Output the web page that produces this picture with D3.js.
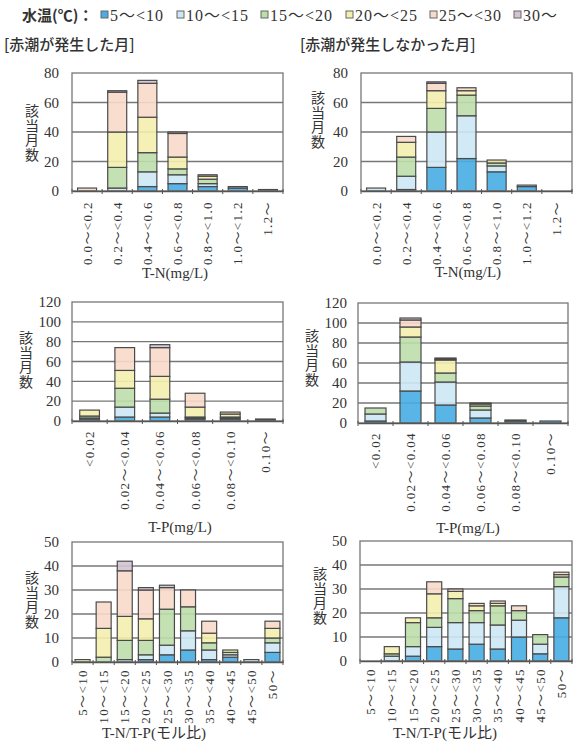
<!DOCTYPE html>
<html>
<head>
<meta charset="utf-8">
<script src="https://cdn.jsdelivr.net/npm/d3@7"></script>
<style>
  body { margin: 0; background: #fff; }
  svg { display: block; }
</style>
</head>
<body>
<svg id="chart" width="573" height="742"></svg>
<script>
// Water temperature classes (stack order, bottom to top)
const tempClasses = ["5～<10", "10～<15", "15～<20", "20～<25", "25～<30", "30～"];
const tempColors  = ["#48ade4", "#cde7f5", "#bcdeaa", "#f4efae", "#f8dacb", "#d3c4d3"];

// T-N classes (mg/L)
const tnCats = ["0.0～<0.2", "0.2～<0.4", "0.4～<0.6", "0.6～<0.8", "0.8～<1.0", "1.0～<1.2", "1.2～"];
// months with red tide: one row per T-N class, one value per temperature class
const tnOccurred = [
  [0, 0, 0, 0, 2, 0],
  [0, 2, 14, 24, 27, 1],
  [3, 10, 13, 24, 23, 2],
  [5, 6, 4, 8, 16, 1],
  [3, 2, 3, 2, 1, 0],
  [2, 1, 0, 0, 0, 0],
  [1, 0, 0, 0, 0, 0]
];
// months without red tide
const tnNone = [
  [0, 2, 0, 0, 0, 0],
  [1, 9, 13, 10, 4, 0],
  [16, 24, 16, 12, 5, 1],
  [22, 29, 14, 3, 2, 0],
  [13, 4, 2, 2, 0, 0],
  [3, 1, 0, 0, 0, 0],
  [0, 0, 0, 0, 0, 0]
];

// T-P classes (mg/L)
const tpCats = ["<0.02", "0.02～<0.04", "0.04～<0.06", "0.06～<0.08", "0.08～<0.10", "0.10～"];
const tpOccurred = [
  [2, 1, 2, 6, 0, 0],
  [4, 10, 19, 18, 23, 0],
  [4, 4, 14, 23, 29, 3],
  [2, 1, 1, 10, 14, 0],
  [2, 1, 1, 3, 2, 0],
  [1, 1, 0, 0, 0, 0]
];
const tpNone = [
  [2, 7, 6, 0, 0, 0],
  [32, 29, 25, 10, 7, 2],
  [18, 23, 9, 13, 1, 1],
  [5, 8, 4, 2, 1, 0],
  [2, 1, 0, 0, 0, 0],
  [2, 0, 0, 0, 0, 0]
];

// T-N/T-P molar ratio classes
const ratioCats = ["5～<10", "10～<15", "15～<20", "20～<25", "25～<30", "30～<35", "35～<40", "40～<45", "45～<50", "50～"];
const ratioOccurred = [
  [0, 0, 0, 1, 0, 0],
  [0, 0, 2, 12, 11, 0],
  [0, 1, 8, 10, 19, 4],
  [1, 2, 6, 9, 12, 1],
  [3, 4, 15, 0, 9, 1],
  [5, 8, 10, 0, 7, 0],
  [1, 4, 3, 4, 5, 0],
  [2, 1, 1, 1, 0, 0],
  [0, 1, 0, 0, 0, 0],
  [4, 4, 2, 4, 3, 0]
];
const ratioNone = [
  [0, 0, 0, 0, 0, 0],
  [0, 2, 1, 3, 0, 0],
  [2, 4, 10, 2, 0, 0],
  [6, 8, 4, 10, 5, 0],
  [5, 11, 10, 3, 1, 0],
  [7, 9, 5, 2, 1, 0],
  [5, 10, 8, 1, 1, 0],
  [10, 7, 4, 0, 2, 0],
  [3, 4, 4, 0, 0, 0],
  [18, 13, 4, 1, 1, 0]
];

const yTitle = "該当月数";
const SERIF = "'Liberation Serif','DejaVu Serif','Noto Sans CJK JP',serif";
const CJK = "'Noto Sans CJK JP','Noto Sans',sans-serif";
const INK = "#333";

const svg = d3.select("#chart");
const color = d3.scaleOrdinal().domain(tempClasses).range(tempColors);

// ---- legend and group titles ----
svg.append("text")
  .attr("x", 22).attr("y", 21)
  .attr("font-family", CJK).attr("font-size", 15).attr("font-weight", 700)
  .attr("fill", INK)
  .text("水温(℃)：");

const legendX = [101, 177, 261, 346, 430, 514];
const legend = svg.append("g").selectAll("g")
  .data(tempClasses).join("g")
  .attr("transform", (d, i) => `translate(${legendX[i]},0)`);
legend.append("rect")
  .attr("x", 0).attr("y", 11).attr("width", 7).attr("height", 7)
  .attr("fill", d => color(d)).attr("stroke", "#666").attr("stroke-width", 1);
legend.append("text")
  .attr("x", 9).attr("y", 21)
  .attr("font-family", SERIF).attr("font-size", 16).attr("letter-spacing", 1)
  .attr("fill", INK)
  .text(d => d);

svg.append("text")
  .attr("x", 4).attr("y", 50)
  .attr("font-family", CJK).attr("font-size", 15).attr("font-weight", 500)
  .attr("fill", INK)
  .text("[赤潮が発生した月]");
svg.append("text")
  .attr("x", 300).attr("y", 50)
  .attr("font-family", CJK).attr("font-size", 15).attr("font-weight", 500)
  .attr("fill", INK)
  .text("[赤潮が発生しなかった月]");

// ---- one stacked-bar panel ----
function drawPanel(cfg) {
  const g = svg.append("g");
  const x = d3.scaleBand()
    .domain(cfg.cats)
    .range([cfg.left, cfg.right])
    .paddingInner(cfg.pad)
    .paddingOuter(cfg.pad / 2);
  const y = d3.scaleLinear().domain([0, cfg.yMax]).range([cfg.bottom, cfg.top]);
  const ticks = d3.range(0, cfg.yMax + cfg.yStep / 2, cfg.yStep);

  // horizontal gridlines
  g.append("g").selectAll("line")
    .data(ticks.filter(t => t > 0 && t < cfg.yMax)).join("line")
    .attr("x1", cfg.left).attr("x2", cfg.right)
    .attr("y1", d => y(d)).attr("y2", d => y(d))
    .attr("stroke", "#777").attr("stroke-width", 1.3);

  // stacked bars
  const rowsAsObjects = cfg.rows.map((r, i) => {
    const o = { cat: cfg.cats[i] };
    tempClasses.forEach((k, j) => { o[k] = r[j]; });
    return o;
  });
  const series = d3.stack().keys(tempClasses)(rowsAsObjects);
  g.append("g").selectAll("g")
    .data(series).join("g")
    .attr("fill", s => color(s.key))
    .selectAll("rect")
    .data(s => s.filter(d => d[1] - d[0] > 0)).join("rect")
    .attr("x", d => x(d.data.cat))
    .attr("width", x.bandwidth())
    .attr("y", d => y(d[1]))
    .attr("height", d => y(d[0]) - y(d[1]))
    .attr("fill-opacity", 0.9)
    .attr("stroke", "#4a4a4a")
    .attr("stroke-width", 1.2);

  // plot frame
  g.append("rect")
    .attr("x", cfg.left).attr("y", cfg.top)
    .attr("width", cfg.right - cfg.left).attr("height", cfg.bottom - cfg.top)
    .attr("fill", "none").attr("stroke", "#777").attr("stroke-width", 1.3);

  // category boundary ticks on the base line
  const bounds = d3.range(cfg.cats.length + 1).map(i => cfg.left + i * x.step());
  g.append("g").selectAll("line")
    .data(bounds).join("line")
    .attr("x1", d => d).attr("x2", d => d)
    .attr("y1", cfg.bottom - 2).attr("y2", cfg.bottom + 3)
    .attr("stroke", "#555").attr("stroke-width", 1);

  // y axis labels
  const yAxis = g.append("g")
    .attr("transform", `translate(${cfg.left},0)`)
    .call(d3.axisLeft(y).tickValues(ticks).tickSize(0).tickPadding(cfg.yPad || 13).tickFormat(d3.format("d")));
  yAxis.select(".domain").remove();
  yAxis.selectAll("text")
    .attr("font-family", SERIF).attr("font-size", 15).attr("fill", INK);

  // x axis category labels, rotated to read bottom-to-top
  const xAxis = g.append("g")
    .attr("transform", `translate(0,${cfg.bottom})`)
    .call(d3.axisBottom(x).tickSize(0));
  xAxis.select(".domain").attr("stroke", "#555").attr("stroke-width", 1.4);
  xAxis.selectAll("text")
    .attr("transform", "rotate(-90)")
    .attr("x", -cfg.labelGap).attr("y", 0).attr("dy", "0.35em")
    .attr("text-anchor", "end")
    .attr("font-family", SERIF).attr("font-size", 13).attr("letter-spacing", 1.4)
    .attr("fill", INK);

  // axis title
  g.append("text")
    .attr("x", cfg.titleX).attr("y", cfg.titleY)
    .attr("text-anchor", "middle")
    .attr("font-family", SERIF).attr("font-size", 15)
    .attr("fill", INK)
    .text(cfg.title);

  // vertical y title, set in vertical writing mode
  g.append("text")
    .attr("x", cfg.ylabX)
    .attr("y", cfg.ylabY)
    .attr("text-anchor", "middle")
    .style("writing-mode", "vertical-rl")
    .style("text-orientation", "upright")
    .attr("font-family", CJK).attr("font-size", 14).attr("letter-spacing", 0.5)
    .attr("fill", INK)
    .text(yTitle);
}

drawPanel({ cats: tnCats, rows: tnOccurred, left: 72, right: 283, top: 73, bottom: 191,
  yMax: 80, yStep: 20, pad: 0.37, labelGap: 10, title: "T-N(mg/L)", titleX: 175, titleY: 278,
  ylabX: 32, ylabY: 133 });
drawPanel({ cats: tnCats, rows: tnNone, left: 361, right: 572, top: 73, bottom: 191,
  yMax: 80, yStep: 20, pad: 0.37, labelGap: 10, title: "T-N(mg/L)", titleX: 468, titleY: 277,
  ylabX: 318, ylabY: 120 });
drawPanel({ cats: tpCats, rows: tpOccurred, left: 72, right: 283, top: 302, bottom: 421,
  yMax: 120, yStep: 20, pad: 0.44, labelGap: 9, title: "T-P(mg/L)", titleX: 180, titleY: 532,
  ylabX: 26, ylabY: 360, yPad: 11 });
drawPanel({ cats: tpCats, rows: tpNone, left: 358, right: 568, top: 303, bottom: 423,
  yMax: 120, yStep: 20, pad: 0.40, labelGap: 9, title: "T-P(mg/L)", titleX: 468, titleY: 533,
  ylabX: 312, ylabY: 358, yPad: 11 });
drawPanel({ cats: ratioCats, rows: ratioOccurred, left: 72, right: 283, top: 542, bottom: 662,
  yMax: 50, yStep: 10, pad: 0.29, labelGap: 7, title: "T-N/T-P(モル比)", titleX: 154, titleY: 738,
  ylabX: 32, ylabY: 600 });
drawPanel({ cats: ratioCats, rows: ratioNone, left: 360, right: 572, top: 541, bottom: 661,
  yMax: 50, yStep: 10, pad: 0.29, labelGap: 7, title: "T-N/T-P(モル比)", titleX: 445, titleY: 738,
  ylabX: 320, ylabY: 596 });
</script>
</body>
</html>
